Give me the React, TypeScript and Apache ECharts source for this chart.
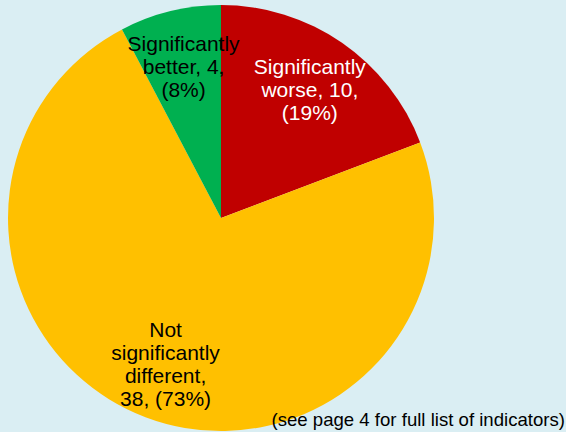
import React, { useEffect, useRef } from "react";
import * as echarts from "echarts";

const categories = ["Significantly worse", "Not significantly different", "Significantly better"];
const values = [10, 38, 4];
const colors = ["#C00000", "#FFC000", "#00B050"];
const labelColors = ["#FFFFFF", "#000000", "#000000"];
const labelTemplates = [
  "Significantly\nworse, {v},\n({p}%)",
  "Not\nsignificantly\ndifferent,\n{v}, ({p}%)",
  "Significantly\nbetter, {v},\n({p}%)",
];
const footnote = "(see page 4 for full list of indicators)";

export default function App() {
  const ref = useRef<HTMLDivElement>(null);
  useEffect(() => {
    if (!ref.current) return;
    const chart = echarts.init(ref.current, null, { renderer: "svg" });
    const total = values.reduce((a, b) => a + b, 0);
    const center = [221, 218];
    const R = 213;
    const font = "'Liberation Sans', Arial, sans-serif";
    chart.setOption({
      animation: false,
      backgroundColor: "#DAEEF3",
      graphic: [
        {
          type: "text",
          right: 1,
          bottom: 3,
          z: 100,
          style: { text: footnote, fontFamily: font, fontSize: 18.6, fill: "#000" },
        },
      ],
      series: [
        {
          type: "pie",
          silent: true,
          center,
          radius: [0, R],
          startAngle: 90,
          clockwise: true,
          label: { show: false },
          labelLine: { show: false },
          emphasis: { disabled: true },
          itemStyle: { borderWidth: 0 },
          data: categories.map((c, i) => ({ name: c, value: values[i], itemStyle: { color: colors[i] } })),
        },
        {
          type: "pie",
          silent: true,
          center,
          radius: [R * 0.44, R],
          startAngle: 90,
          clockwise: true,
          emphasis: { disabled: true },
          itemStyle: { color: "rgba(0,0,0,0)", borderWidth: 0 },
          labelLine: { show: false },
          label: {
            show: true,
            position: "inside",
            fontFamily: font,
            fontSize: 21,
            lineHeight: 23,
            align: "center",
          },
          data: categories.map((c, i) => ({
            name: c,
            value: values[i],
            label: {
              color: labelColors[i],
              formatter: labelTemplates[i]
                .replace("{v}", String(values[i]))
                .replace("{p}", String(Math.round((values[i] / total) * 100))),
            },
          })),
        },
      ],
    });
    return () => chart.dispose();
  }, []);
  return (
    <div
      ref={ref}
      style={{ position: "fixed", left: 0, top: 0, width: 566, height: 432 }}
    />
  );
}
